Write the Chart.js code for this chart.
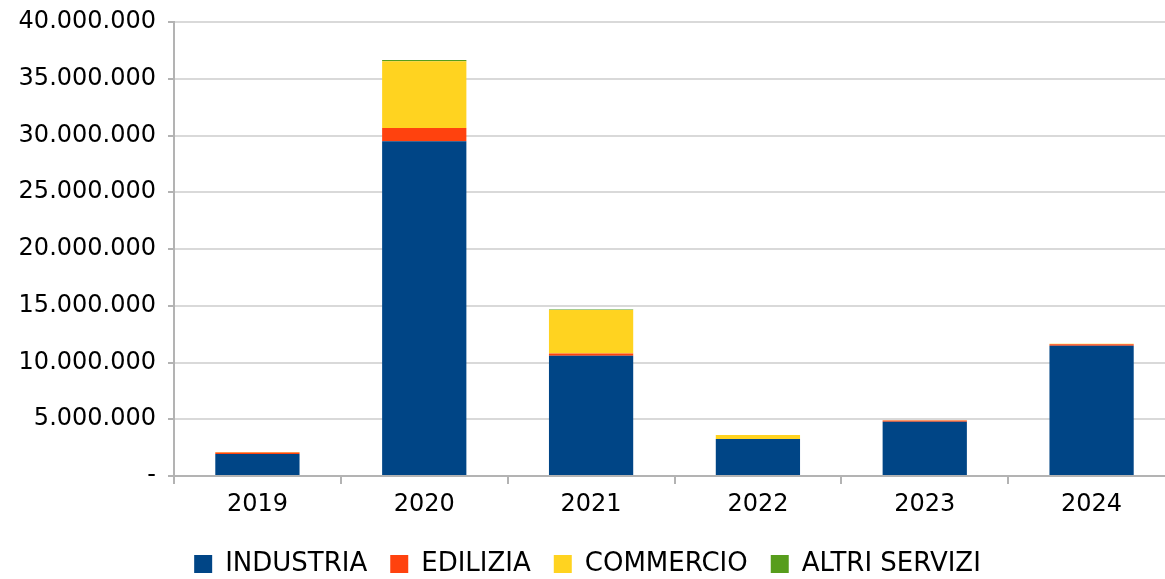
<!DOCTYPE html>
<html>
<head>
<meta charset="utf-8">
<script src="https://cdn.jsdelivr.net/npm/chart.js@4"></script>
<style>
  html, body { margin: 0; padding: 0; background: #fff; overflow: hidden; }
  #wrap { width: 1175px; height: 579px; position: relative; }
</style>
</head>
<body>
<div id="wrap"><canvas id="grafico"></canvas></div>
<script>
// dati
const anni = ['2019', '2020', '2021', '2022', '2023', '2024'];
const industria = [1940000, 29500000, 10600000, 3270000, 4770000, 11480000];
const edilizia = [130000, 1150000, 200000, 0, 120000, 130000];
const commercio = [40000, 5900000, 3830000, 350000, 30000, 40000];
const altriServizi = [0, 100000, 50000, 0, 0, 0];

const tickValori = [0, 5000000, 10000000, 15000000, 20000000, 25000000, 30000000, 35000000, 40000000];

// formato con punto come separatore delle migliaia
function formatta(v) {
    if (v === 0) return '-';
    return String(v).replace(/\B(?=(\d{3})+(?!\d))/g, '.');
}

const font = "'DejaVu Sans', Verdana, sans-serif";

const ctx = document.getElementById('grafico').getContext('2d');
new Chart(ctx, {
    type: 'bar',
    data: {
        labels: anni,
        datasets: [
            { label: 'INDUSTRIA', data: industria, backgroundColor: '#004586' },
            { label: 'EDILIZIA', data: edilizia, backgroundColor: '#ff420e' },
            { label: 'COMMERCIO', data: commercio, backgroundColor: '#ffd320' },
            { label: 'ALTRI SERVIZI', data: altriServizi, backgroundColor: '#579d1c' }
        ]
    },
    options: {
        responsive: true,
        maintainAspectRatio: false,
        animation: false,
        layout: { padding: { top: 22, right: 0, bottom: -8, left: 0 } },
        datasets: { bar: { categoryPercentage: 0.505, barPercentage: 1 } },
        scales: {
            x: {
                stacked: true,
                offset: true,
                grid: {
                    offset: true,
                    drawOnChartArea: false,
                    drawTicks: true,
                    tickLength: 8,
                    color: '#b3b3b3',
                    lineWidth: 2
                },
                border: { color: '#b3b3b3', width: 2 },
                ticks: { color: '#000', font: { family: font, size: 24 }, padding: 6 },
                afterFit: function (scale) { scale.height = 52; }
            },
            y: {
                stacked: true,
                min: 0,
                max: 40000000,
                afterBuildTicks: function (scale) {
                    scale.ticks = tickValori.map(v => ({ value: v }));
                },
                grid: {
                    color: '#d9d9d9',
                    lineWidth: 2,
                    drawTicks: true,
                    tickLength: 6,
                    tickColor: '#b3b3b3'
                },
                border: { color: '#b3b3b3', width: 2 },
                ticks: {
                    color: '#000',
                    font: { family: font, size: 24 },
                    padding: 12,
                    callback: function (v) { return formatta(v); }
                },
                afterFit: function (scale) {
                    scale.width = 174;
                    scale.paddingTop = 0;
                    scale.paddingBottom = 0;
                }
            }
        },
        plugins: {
            legend: {
                position: 'bottom',
                labels: {
                    color: '#000',
                    font: { family: font, size: 26 },
                    boxWidth: 18,
                    boxHeight: 18,
                    padding: 23
                }
            },
            tooltip: { enabled: false }
        }
    }
});
</script>
</body>
</html>
